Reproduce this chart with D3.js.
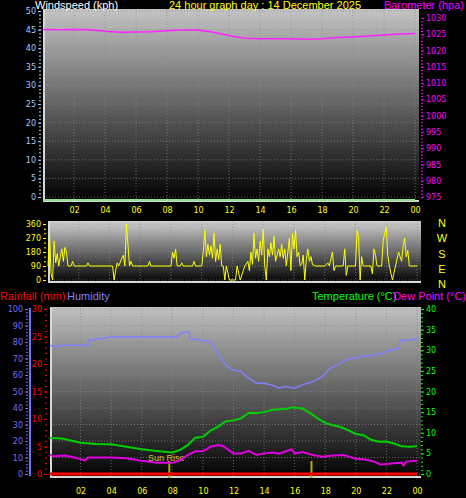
<!DOCTYPE html>
<html><head><meta charset="utf-8">
<script src="https://cdn.jsdelivr.net/npm/d3@7"></script>
<style>body{margin:0;background:#000}svg{display:block}text{font-family:"Liberation Sans",Arial,sans-serif}</style>
</head><body>
<div id="chart"></div>
<script>
// hourly-ish readings, hour of day -> value
const hourTicks = [2,4,6,8,10,12,14,16,18,20,22,24];
const pressure = [[0,1026.5],[1,1026.4],[2,1026.5],[3,1026.4],[4,1025.9],[5,1025.6],[6,1025.7],[7,1025.8],[8,1026.1],[9,1026.3],[10,1026.3],[11,1025.6],[12,1024.6],[13,1023.8],[14,1023.6],[15,1023.6],[16,1023.6],[17,1023.5],[18,1023.6],[19,1024.0],[20,1024.2],[21,1024.5],[22,1024.8],[23,1025.1],[24,1025.2]];
const windSpeed = [[0,0],[24,0]];
const windDir = [[0,90],[0.1,300],[0.2,40],[0.3,0],[0.4,250],[0.5,110],[0.6,170],[0.7,90],[0.8,150],[0.9,200],[1,120],[1.1,210],[1.2,180],[1.3,90],[1.5,90],[1.6,120],[1.7,90],[2.5,90],[2.6,110],[2.7,90],[4.2,90],[4.3,0],[4.4,60],[4.5,110],[4.6,90],[4.8,140],[4.9,160],[5,90],[5.1,360],[5.2,230],[5.3,90],[5.4,120],[5.5,90],[6.5,90],[6.6,120],[6.7,90],[8,90],[8.1,180],[8.2,140],[8.3,200],[8.4,90],[8.6,90],[8.7,110],[8.8,90],[9.4,90],[9.5,120],[9.6,90],[10,90],[10.1,180],[10.2,320],[10.3,150],[10.4,230],[10.5,160],[10.6,220],[10.7,140],[10.8,300],[10.9,120],[11,200],[11.1,130],[11.2,230],[11.3,90],[11.4,90],[11.5,0],[11.6,90],[11.8,0],[12.2,0],[12.3,90],[12.5,0],[12.7,60],[12.8,90],[13,120],[13.1,60],[13.2,180],[13.3,100],[13.4,300],[13.5,140],[13.6,200],[13.7,120],[13.8,250],[13.9,160],[14,330],[14.1,90],[14.2,0],[14.3,200],[14.4,150],[14.5,240],[14.6,160],[14.7,280],[14.8,120],[15,200],[15.1,150],[15.2,230],[15.3,140],[15.4,200],[15.5,90],[15.6,180],[15.7,270],[15.8,60],[15.9,300],[16,200],[16.1,320],[16.2,150],[16.3,180],[16.4,90],[16.5,100],[16.6,160],[16.7,0],[16.8,130],[16.9,200],[17,120],[17.1,150],[17.2,100],[17.4,90],[18,90],[18.2,110],[18.3,90],[18.5,180],[18.6,60],[18.7,90],[19.2,90],[19.3,200],[19.4,30],[19.5,90],[20,90],[20.1,320],[20.2,280],[20.3,0],[20.4,150],[20.5,90],[21,90],[21.1,40],[21.2,200],[21.3,160],[21.4,90],[21.7,90],[21.8,250],[21.9,300],[22,340],[22.1,160],[22.2,90],[22.4,0],[22.6,90],[22.8,180],[23,120],[23.1,220],[23.2,270],[23.3,150],[23.4,190],[23.5,90],[24,90]];
const humidity = [[0,78],[0.3,77],[0.8,78],[2.5,78],[2.55,81],[3.3,82],[4,83],[8.3,83],[8.5,85],[8.9,86],[9.1,86],[9.15,82],[10,81],[10.5,80],[10.8,76],[11.2,70],[11.6,65],[12,63],[12.5,62],[13,58],[13.5,55],[14,55],[14.5,54],[15,52],[15.4,53],[16,52],[16.5,54],[17.2,56],[17.8,59],[18.3,64],[18.8,66],[19.3,69],[19.8,70],[20.3,71],[21,72],[21.7,73],[22.2,75],[22.8,76],[22.9,81],[23.5,81],[24,82]];
const temperature = [[0,8.7],[0.8,8.6],[1.5,8],[2,7.6],[3,7.3],[4,7.2],[5,6.6],[6,6],[7,5.6],[8,5.2],[8.5,5.8],[9,7],[9.5,8.8],[10,9],[10.5,10.5],[11,11.5],[11.5,12.8],[12,13],[12.5,13.5],[13,14.8],[13.5,14.8],[14,15],[14.5,15.5],[15,15.7],[15.5,15.8],[15.8,16.2],[16.5,15.9],[17,14.8],[17.5,13.5],[18,12.4],[18.5,11.8],[19,11.4],[19.5,10.6],[20,9.7],[20.5,9.4],[21,8.3],[21.5,7.8],[22,7.9],[22.5,7.4],[23,6.7],[23.5,6.6],[24,6.7]];
const dewPoint = [[0,4.7],[0.2,4.3],[1,4.5],[1.8,3.8],[2.3,3.3],[2.5,4],[4,4],[5,3.8],[6,3.2],[7,2.7],[8,2.7],[8.5,3.3],[9,4.6],[9.5,5.5],[10,5.5],[10.5,6.6],[11,7],[11.3,6.8],[12,5],[12.5,5],[13,5.6],[13.5,4.6],[14,5],[14.6,5.2],[15,4.9],[15.8,6],[16,5],[16.5,5.3],[17.2,4.6],[17.8,4.2],[18.5,4.5],[19.2,4.6],[20,3.7],[20.6,3.5],[21.2,3],[21.6,2.3],[22,2.4],[23,2.8],[23.1,2.1],[23.3,3],[24,3.2]];
const rainfall = [[0,0],[24,0]];
const sunRise = 7.8, sunSet = 17.1;
const dirLabels = ["N","W","S","E","N"];

const W = 466, H = 498;
const svg = d3.select("#chart").append("svg").attr("width", W).attr("height", H).style("background", "#000");
const defs = svg.append("defs");
function grad(id, c0) {
  const g = defs.append("linearGradient").attr("id", id).attr("x1", 0).attr("y1", 0).attr("x2", 0).attr("y2", 1);
  g.append("stop").attr("offset", 0).attr("stop-color", c0);
  g.append("stop").attr("offset", 1).attr("stop-color", "#000");
}
grad("g1", "#c4c4c4"); grad("g2", "#d0d0d0"); grad("g3", "#c0c0c0");

function panel(x0, x1, y0, y1, gid, yScale, yTicks) {
  svg.append("rect").attr("x", x0).attr("y", y0).attr("width", x1 - x0).attr("height", y1 - y0).attr("fill", `url(#${gid})`);
  const x = d3.scaleLinear().domain([0, 24]).range([x0, x1 - 4]);
  const g = svg.append("g").attr("stroke", "#8a8a8a").attr("stroke-dasharray", "1,2").attr("opacity", 0.7);
  hourTicks.forEach(h => g.append("line").attr("x1", x(h)).attr("x2", x(h)).attr("y1", y0).attr("y2", y1));
  yTicks.forEach(t => g.append("line").attr("x1", x0).attr("x2", x1).attr("y1", yScale(t)).attr("y2", yScale(t)));
  svg.append("path").attr("d", `M${x0 + 1},${y0}V${y1 - 1}H${x1}`).attr("fill", "none").attr("stroke", "#d8d8d8").attr("stroke-width", 2);
  return x;
}
function axis(scale, ticks, xpos, side, color, minor) {
  const a = (side === "left" ? d3.axisLeft(scale) : d3.axisRight(scale)).tickValues(ticks).tickSize(3).tickPadding(2).tickFormat(d3.format("d"));
  const g = svg.append("g").attr("transform", `translate(${xpos},0)`).call(a);
  g.select(".domain").remove();
  g.selectAll("line").attr("stroke", color);
  g.selectAll("text").attr("fill", color).style("font-size", "8px").style("font-family", "DejaVu Sans");
  if (minor) {
    const a2 = (side === "left" ? d3.axisLeft(scale) : d3.axisRight(scale)).tickValues(minor).tickSize(2).tickFormat("");
    const m = svg.append("g").attr("transform", `translate(${xpos},0)`).call(a2);
    m.select(".domain").remove(); m.selectAll("line").attr("stroke", color);
  }
}
function xAxis(x, y) {
  const g = svg.append("g").attr("transform", `translate(0,${y})`)
    .call(d3.axisBottom(x).tickValues(hourTicks).tickSize(0).tickPadding(0).tickFormat(h => d3.format("02")(h % 24)));
  g.select(".domain").remove();
  g.selectAll("text").attr("fill", "#ffff00").style("font-size", "8px").style("font-family", "DejaVu Sans");
}
function line(x, y, data, color, w) {
  svg.append("path").datum(data).attr("fill", "none").attr("stroke", color).attr("stroke-width", w || 1.5)
    .attr("d", d3.line().x(d => x(d[0])).y(d => y(d[1])));
}
const txt = (s, x, y, c, anchor) => svg.append("text").attr("x", x).attr("y", y).attr("fill", c)
  .attr("text-anchor", anchor || "start").style("font-size", "11px").text(s);

// --- top panel: wind speed & barometer
const yWs = d3.scaleLinear().domain([0, 50]).range([197, 11]);
const yBar = d3.scaleLinear().domain([975, 1030]).range([197, 18]);
const x1 = panel(43, 419, 9, 202, "g1", yWs, d3.range(0, 51, 5));
axis(yWs, d3.range(0, 51, 5), 41, "left", "#a8c8ff", d3.range(0, 51, 1));
axis(yBar, d3.range(975, 1031, 5), 421, "right", "#ff00ff", d3.range(975, 1031, 1));
xAxis(x1, 207);
line(x1, d => yWs(d) + 3, windSpeed, "#90e090", 2);
line(x1, yBar, pressure, "#ff22ff", 1.5);
txt("Windspeed (kph)", 35, 9, "#fff");
txt("24 hour graph day : 14 December 2025", 265, 9, "#ffff00", "middle");
txt("Barometer (hpa)", 464, 9, "#ff00ff", "end");

// --- wind direction
const yDir = d3.scaleLinear().domain([0, 360]).range([280, 224]);
const x2 = panel(48, 421, 221, 283, "g2", yDir, [0, 90, 180, 270, 360]);
axis(yDir, [0, 90, 180, 270, 360], 46, "left", "#ffff00", d3.range(0, 361, 30));
line(x2, yDir, windDir, "#ffff00", 1);
dirLabels.forEach((s, i) => svg.append("text").attr("x", 442).attr("y", 227 + i * 15.3).attr("fill", "#ffff00")
  .attr("text-anchor", "middle").style("font-size", "11px").text(s));

// --- bottom panel
const yHum = d3.scaleLinear().domain([0, 100]).range([474, 309]);
const yRain = d3.scaleLinear().domain([0, 30]).range([474, 309]);
const yTemp = d3.scaleLinear().domain([0, 40]).range([474, 309]);
const x3 = panel(50, 421, 307, 478, "g3", yHum, d3.range(0, 101, 10));
axis(yHum, d3.range(0, 101, 10), 28, "left", "#7070ff", d3.range(0, 101, 2));
svg.append("line").attr("x1", 30).attr("x2", 30).attr("y1", 308).attr("y2", 476).attr("stroke", "#7070ff").attr("stroke-width", 2);
axis(yRain, d3.range(0, 31, 5), 47, "left", "#ff0000", d3.range(0, 31, 1));
axis(yTemp, d3.range(0, 41, 5), 421, "right", "#00ff00", d3.range(0, 41, 1));
xAxis(x3, 488);
[sunRise, sunSet].forEach(h => svg.append("line").attr("x1", x3(h)).attr("x2", x3(h)).attr("y1", 461).attr("y2", 478)
  .attr("stroke", "#b8a800").attr("stroke-width", 2));
svg.append("text").attr("x", x3(sunRise) - 3).attr("y", 461).attr("fill", "#d8c830").attr("text-anchor", "middle")
  .style("font-size", "9px").text("Sun Rise");
line(x3, yHum, humidity, "#8080ff", 1.5);
line(x3, yTemp, temperature, "#00d000", 2);
line(x3, yTemp, dewPoint, "#e000e0", 2);
line(x3, yRain, rainfall, "#ff0000", 3);
txt("Rainfall (mm)", 0, 300, "#ff0000");
txt("Humidity", 67, 300, "#8080ff");
txt("Temperature (°C)", 312, 300, "#00ff00");
txt("Dew Point (°C)", 466, 300, "#ff00ff", "end");
</script>
</body></html>
